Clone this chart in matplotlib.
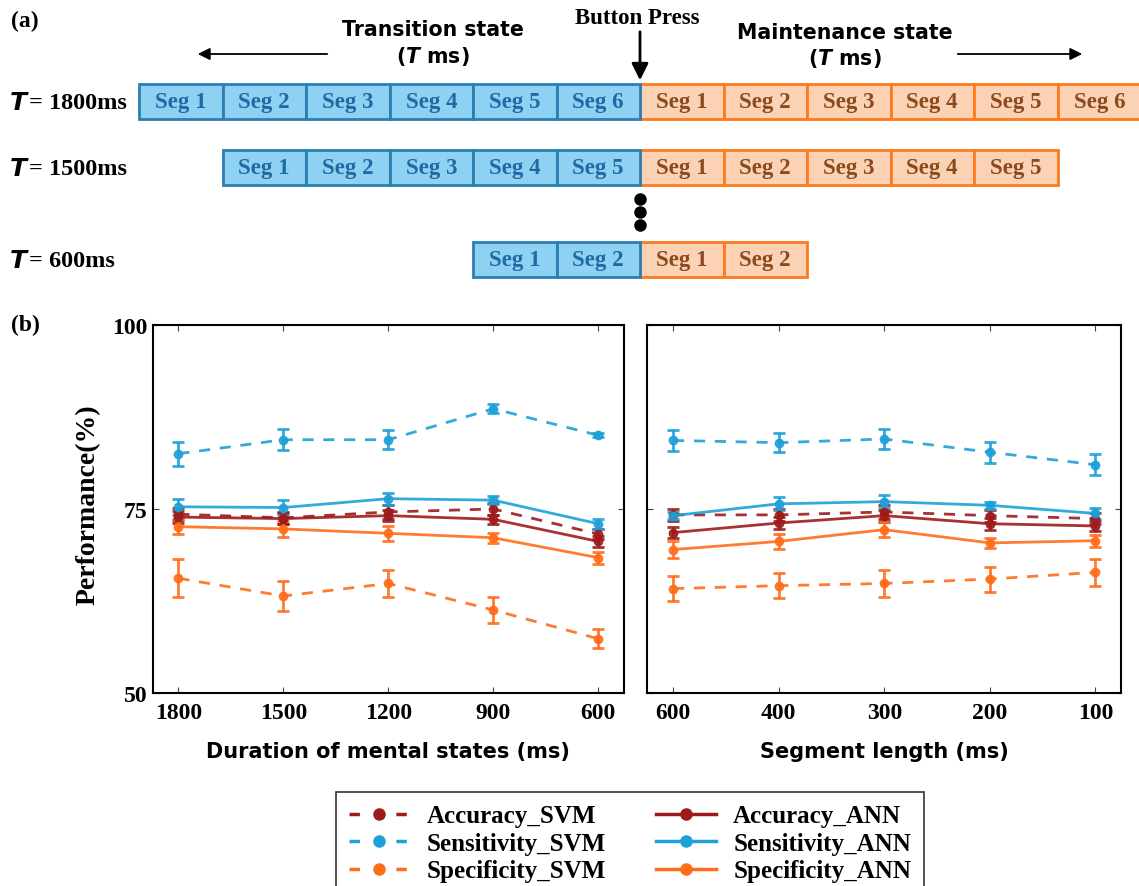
import matplotlib.pyplot as plt
from matplotlib.patches import Rectangle
from matplotlib.lines import Line2D

# ---- data ----
durations = ['1800', '1500', '1200', '900', '600']
seg_lengths = ['600', '400', '300', '200', '100']

# panel 1: duration of mental states
dur_acc_svm = [74.3, 73.8, 74.6, 75.0, 71.6]
dur_acc_ann = [73.9, 73.7, 74.1, 73.6, 70.6]
dur_sen_svm = [82.5, 84.4, 84.4, 88.6, 85.0]
dur_sen_ann = [75.3, 75.2, 76.4, 76.2, 73.0]
dur_spe_svm = [65.6, 63.2, 64.9, 61.3, 57.4]
dur_spe_ann = [72.6, 72.3, 71.7, 71.1, 68.4]
dur_acc_svm_err = [0.8, 0.8, 0.9, 0.8, 0.7]
dur_acc_ann_err = [0.8, 0.7, 0.7, 0.6, 0.7]
dur_sen_svm_err = [1.6, 1.4, 1.3, 0.6, 0.3]
dur_sen_ann_err = [1.1, 1.0, 0.8, 0.5, 0.7]
dur_spe_svm_err = [2.6, 2.0, 1.8, 1.7, 1.3]
dur_spe_ann_err = [1.0, 1.1, 1.0, 0.7, 0.8]

# panel 2: segment length
seg_acc_svm = [74.2, 74.2, 74.6, 74.1, 73.7]
seg_acc_ann = [71.8, 73.1, 74.1, 73.0, 72.7]
seg_sen_svm = [84.3, 84.0, 84.5, 82.7, 81.0]
seg_sen_ann = [74.1, 75.7, 76.0, 75.5, 74.4]
seg_spe_svm = [64.2, 64.6, 64.9, 65.5, 66.4]
seg_spe_ann = [69.5, 70.6, 72.2, 70.4, 70.7]
seg_acc_svm_err = [0.8, 0.8, 0.9, 0.8, 0.8]
seg_acc_ann_err = [0.8, 0.8, 0.8, 0.8, 0.7]
seg_sen_svm_err = [1.4, 1.3, 1.3, 1.4, 1.4]
seg_sen_ann_err = [0.5, 0.9, 0.9, 0.5, 0.7]
seg_spe_svm_err = [1.7, 1.7, 1.8, 1.7, 1.8]
seg_spe_ann_err = [1.2, 1.0, 1.0, 0.7, 0.8]

# diagram (a): state durations, 300 ms per segment
T_values = [1800, 1500, 600]
seg_ms = 300

RED = '#9e1b1b'
BLUE = '#1ea0d8'
ORANGE = '#ff6d1a'
SERIF = 'Liberation Serif'
SANS = 'DejaVu Sans'

fig = plt.figure(figsize=(11.39, 8.87), dpi=100)

# ---- (a) segment diagram, drawn in pixel-like units ----
axd = fig.add_axes([0, 1 - 300 / 887, 1, 300 / 887])
axd.set_xlim(0, 1139)
axd.set_ylim(300, 0)
axd.axis('off')

press_x = 640
seg_w = 83.5
row_top = [85, 151, 243]
row_h = 35

for T, top in zip(T_values, row_top):
    n = T // seg_ms
    for i in range(n):
        # transition segments, counted left to right ending at button press
        x0 = press_x - (n - i) * seg_w
        axd.add_patch(Rectangle((x0, top), seg_w, row_h, facecolor='#8fd1f3',
                                edgecolor='#2a7fb3', lw=2))
        axd.text(x0 + seg_w / 2, top + row_h / 2, 'Seg %d' % (i + 1), ha='center',
                 va='center', family=SERIF, weight='bold', fontsize=16.5, color='#1f6aa5')
        # maintenance segments
        x1 = press_x + i * seg_w
        axd.add_patch(Rectangle((x1, top), seg_w, row_h, facecolor='#fbd2b3',
                                edgecolor='#ff7a1f', lw=2))
        axd.text(x1 + seg_w / 2, top + row_h / 2, 'Seg %d' % (i + 1), ha='center',
                 va='center', family=SERIF, weight='bold', fontsize=16.5, color='#8a4a1e')
    axd.text(10, top + row_h / 2, 'T', ha='left', va='center', family=SANS,
             weight='bold', style='italic', fontsize=18)
    axd.text(29, top + row_h / 2 + 1, '= %dms' % T, ha='left', va='center', family=SERIF,
             weight='bold', fontsize=17.5)

# dots between rows
for y in [200, 213, 226]:
    axd.plot(press_x, y, 'o', color='black', ms=8)

axd.text(11, 21, '(a)', family=SERIF, weight='bold', fontsize=17, va='center')
axd.text(press_x - 3, 18, 'Button Press', ha='center', va='center', family=SERIF,
         weight='bold', fontsize=16.5)
axd.annotate('', xy=(press_x, 84), xytext=(press_x, 30),
             arrowprops=dict(arrowstyle='-|>', color='black', lw=2, mutation_scale=25))

axd.text(433, 30, 'Transition state', ha='center', va='center', family=SANS,
         weight='bold', fontsize=14.8)
axd.text(433, 56, '($\\mathbfit{T}$ ms)', ha='center', va='center', family=SANS,
         weight='bold', fontsize=14.8)
axd.text(845, 33, 'Maintenance state', ha='center', va='center', family=SANS,
         weight='bold', fontsize=14.8)
axd.text(845, 58, '($\\mathbfit{T}$ ms)', ha='center', va='center', family=SANS,
         weight='bold', fontsize=14.8)
axd.annotate('', xy=(195, 55), xytext=(330, 55),
             arrowprops=dict(arrowstyle='-|>', color='black', lw=1.3, mutation_scale=18))
axd.annotate('', xy=(1085, 55), xytext=(955, 55),
             arrowprops=dict(arrowstyle='-|>', color='black', lw=1.3, mutation_scale=18))

# ---- (b) performance plots ----
ax1 = fig.add_axes([152.7 / 1139, 1 - 694.3 / 887, 471.3 / 1139, 368.6 / 887])
ax2 = fig.add_axes([647.3 / 1139, 1 - 694.3 / 887, 474 / 1139, 368.6 / 887])

panels = [
    (ax1, durations, [(dur_acc_svm, dur_acc_svm_err, RED, '--'),
                      (dur_sen_svm, dur_sen_svm_err, BLUE, '--'),
                      (dur_spe_svm, dur_spe_svm_err, ORANGE, '--'),
                      (dur_acc_ann, dur_acc_ann_err, RED, '-'),
                      (dur_sen_ann, dur_sen_ann_err, BLUE, '-'),
                      (dur_spe_ann, dur_spe_ann_err, ORANGE, '-')]),
    (ax2, seg_lengths, [(seg_acc_svm, seg_acc_svm_err, RED, '--'),
                        (seg_sen_svm, seg_sen_svm_err, BLUE, '--'),
                        (seg_spe_svm, seg_spe_svm_err, ORANGE, '--'),
                        (seg_acc_ann, seg_acc_ann_err, RED, '-'),
                        (seg_sen_ann, seg_sen_ann_err, BLUE, '-'),
                        (seg_spe_ann, seg_spe_ann_err, ORANGE, '-')]),
]

for ax, labels, series in panels:
    xs = list(range(len(labels)))
    for vals, errs, col, ls in series:
        ax.errorbar(xs, vals, yerr=errs, color=col, ls=ls, lw=2, marker='o', ms=6,
                    capsize=4, elinewidth=2, capthick=2, dashes=(4, 3.5) if ls == '--' else None,
                    alpha=0.9)
    ax.set_xlim(-0.245, 4.245)
    ax.set_ylim(50, 100)
    ax.set_xticks(xs)
    ax.set_xticklabels(labels)
    ax.set_yticks([50, 75, 100])
    ax.tick_params(direction='in', top=True, right=True, length=4, width=0.8,
                   color='#444444', pad=6)
    for lab in ax.get_xticklabels() + ax.get_yticklabels():
        lab.set_family(SERIF)
        lab.set_weight('bold')
        lab.set_fontsize(17)
    for sp in ax.spines.values():
        sp.set_linewidth(1.5)

ax2.set_yticklabels([])
ax1.tick_params(axis='y', pad=4)

fig.text(11 / 1139, 1 - 325 / 887, '(b)', family=SERIF, weight='bold', fontsize=17,
         va='center')
fig.text(88 / 1139, 1 - 505 / 887, 'Performance(%)', rotation=90, ha='center',
         va='center', family=SERIF, weight='bold', fontsize=20)
fig.text(388 / 1139, 1 - 752 / 887, 'Duration of mental states (ms)', ha='center',
         va='center', family=SANS, weight='bold', fontsize=15)
fig.text(884 / 1139, 1 - 752 / 887, 'Segment length (ms)', ha='center', va='center',
         family=SANS, weight='bold', fontsize=15)

# legend
names = ['Accuracy_SVM', 'Sensitivity_SVM', 'Specificity_SVM',
         'Accuracy_ANN', 'Sensitivity_ANN', 'Specificity_ANN']
styles = [(RED, '--'), (BLUE, '--'), (ORANGE, '--'), (RED, '-'), (BLUE, '-'), (ORANGE, '-')]
handles = [Line2D([], [], color=c, ls=l, lw=2.5, marker='o', ms=8,
                  dashes=(3.0, 10.5) if l == '--' else (None, None)) for c, l in styles]
leg = fig.legend(handles, names, ncol=2, loc='upper center',
                 bbox_to_anchor=(630 / 1139, 1 - 793 / 887), frameon=True, fancybox=False,
                 edgecolor='black', handlelength=2.4, handletextpad=0.7, labelspacing=0.18,
                 columnspacing=2.0, borderaxespad=0,
                 prop={'family': SERIF, 'weight': 'bold', 'size': 18}, borderpad=0.5)
leg.get_frame().set_linewidth(1.2)

fig.savefig('out.png', dpi=100)
